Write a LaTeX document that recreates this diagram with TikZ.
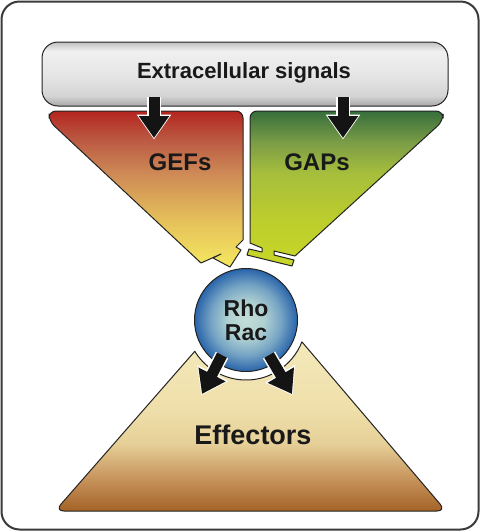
\documentclass[tikz,border=0pt]{standalone}
\usepackage{fontspec}
\setmainfont{Liberation Sans}
\usetikzlibrary{arrows.meta}

\definecolor{framegray}{RGB}{58,58,58}
\definecolor{edgegray}{RGB}{35,35,35}
\definecolor{arrowblack}{RGB}{20,20,20}
\definecolor{textblack}{RGB}{25,25,25}
% signal box
\definecolor{sigA}{RGB}{192,192,192}
\definecolor{sigB}{RGB}{240,240,240}
\definecolor{sigC}{RGB}{230,230,230}
\definecolor{sigD}{RGB}{212,212,212}
\definecolor{sigE}{RGB}{168,168,168}
% GEFs
\definecolor{gefA}{RGB}{180,38,32}
\definecolor{gefB}{RGB}{187,88,66}
\definecolor{gefC}{RGB}{206,138,86}
\definecolor{gefD}{RGB}{229,192,90}
\definecolor{gefE}{RGB}{245,232,96}
% GAPs
\definecolor{gapA}{RGB}{55,110,60}
\definecolor{gapB}{RGB}{122,156,70}
\definecolor{gapC}{RGB}{166,190,60}
\definecolor{gapD}{RGB}{188,205,45}
\definecolor{gapE}{RGB}{200,215,40}
% effectors
\definecolor{effA}{RGB}{244,233,186}
\definecolor{effB}{RGB}{239,223,170}
\definecolor{effC}{RGB}{230,208,152}
\definecolor{effD}{RGB}{200,150,95}
\definecolor{effE}{RGB}{165,98,38}
% Rho / Rac
\definecolor{rhoA}{RGB}{196,222,214}
\definecolor{rhoB}{RGB}{174,208,210}
\definecolor{rhoC}{RGB}{118,164,196}
\definecolor{rhoD}{RGB}{40,100,170}

\pgfdeclareverticalshading{sigshade}{100bp}{color(0bp)=(sigE); color(25bp)=(sigE); color(33bp)=(sigD); color(50bp)=(sigC); color(68bp)=(sigB); color(75bp)=(sigA); color(100bp)=(sigA)}
\pgfdeclareverticalshading{gefshade}{100bp}{color(0bp)=(gefE); color(25bp)=(gefE); color(40bp)=(gefD); color(55bp)=(gefC); color(66bp)=(gefB); color(75bp)=(gefA); color(100bp)=(gefA)}
\pgfdeclareverticalshading{gapshade}{100bp}{color(0bp)=(gapE); color(25bp)=(gapE); color(40bp)=(gapD); color(55bp)=(gapC); color(65bp)=(gapB); color(75bp)=(gapA); color(100bp)=(gapA)}
\pgfdeclareverticalshading{effshade}{100bp}{color(0bp)=(effE); color(25bp)=(effE); color(35bp)=(effD); color(45bp)=(effC); color(55bp)=(effB); color(75bp)=(effA); color(100bp)=(effA)}
\pgfdeclareradialshading{rhoshade}{\pgfpoint{0bp}{0bp}}{color(0bp)=(rhoA); color(9bp)=(rhoB); color(17bp)=(rhoC); color(25bp)=(rhoD); color(50bp)=(rhoD)}

\begin{document}
\begin{tikzpicture}[x=1pt, y=-1pt,
    edge/.style={draw=edgegray, line width=1pt, line join=round},
    bigtext/.style={text=textblack, font=\bfseries\fontsize{24}{26}\selectfont},
    sigarrow/.style={draw=white, line width=14pt, shorten >=-1.5pt,
      -{Triangle[length=25pt,width=33pt]},
      postaction={draw=arrowblack, line width=11pt, shorten >=0pt,
        -{Triangle[length=22pt,width=29pt]}}}]
  \useasboundingbox (0,0) rectangle (480,531);
  \draw[draw=framegray, line width=2pt, rounded corners=18pt, fill=white] (1.5,1.5) rectangle (478.5,529.5);

  % signals
  \shadedraw[edge, rounded corners=16pt, shading=sigshade] (42,42) rectangle (448,106);
  \node[bigtext, font=\bfseries\fontsize{22}{24}\selectfont] (sig) at (244,73) {Extracellular signals};

  % GEFs and GAPs
  \shadedraw[edge, shading=gefshade] (243,200) [rounded corners=7pt] -- (243,111) -- (49,111) -- (49,121)
    [sharp corners] -- (201,263) -- (221,254) -- (213,258) -- (230,267) -- (241,250) -- (236,247) -- (243,240) -- cycle;
  \shadedraw[edge, shading=gapshade] (250,200) [rounded corners=7pt] -- (250,111) -- (443,111) -- (443,121)
    [sharp corners] -- (295,256) -- (274,251) -- (274,255) -- (294,260) -- (292,266) -- (247,255)
    -- (249,249) -- (262,252) -- (262,248) -- (250,243) -- cycle;
  \node[bigtext] (gef) at (180,162) {GEFs};
  \node[bigtext] (gap) at (317,162) {GAPs};

  % effectors
  \shadedraw[edge, shading=effshade] (250,511) [rounded corners=9pt] -- (55,511) [sharp corners] -- (194.8,351.3)
    arc[start angle=148.6, end angle=21.3, radius=60] [rounded corners=9pt] -- (446,511) [sharp corners] -- cycle;
  \node[bigtext, font=\bfseries\fontsize{27}{30}\selectfont] (eff) at (253,435) {Effectors};

  % Rho / Rac
  \node[circle, minimum size=103pt, inner sep=0pt, draw=edgegray, line width=1pt, shade, shading=rhoshade,
    align=center, text=textblack, font=\bfseries\fontsize{23}{24}\selectfont] (rho) at (246,320) {Rho\\Rac};

  % arrows
  \coordinate (s1) at (154,97);
  \coordinate (s1t) at (154,138);
  \coordinate (s2) at (343,97);
  \coordinate (s2t) at (343,138);
  \coordinate (r1) at (222,355);
  \coordinate (r1t) at (202,394);
  \coordinate (r2) at (269,355);
  \coordinate (r2t) at (292,394);
  \draw[sigarrow] (s1) -- (s1t);
  \draw[sigarrow] (s2) -- (s2t);
  \draw[sigarrow] (r1) -- (r1t);
  \draw[sigarrow] (r2) -- (r2t);
\end{tikzpicture}
\end{document}
